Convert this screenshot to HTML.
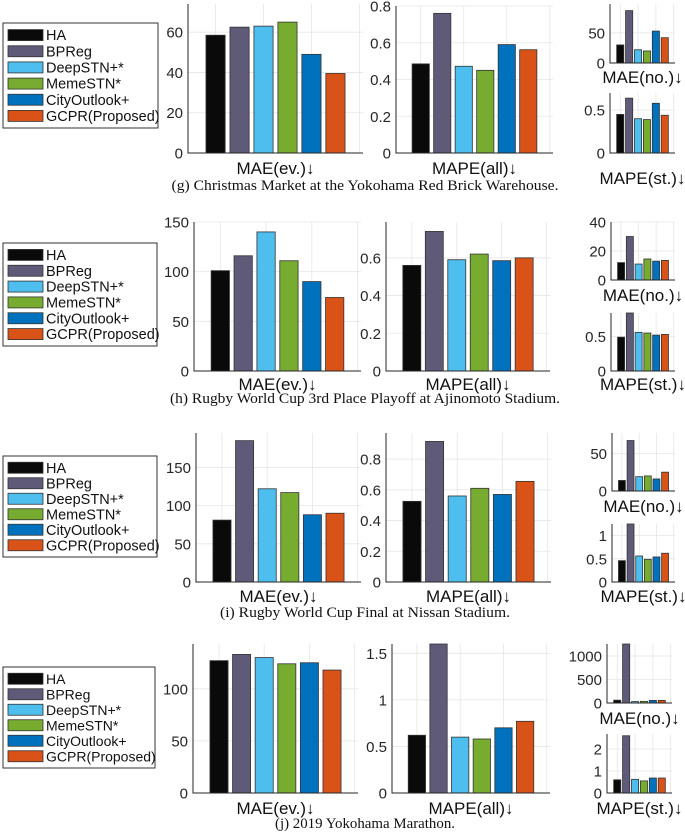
<!DOCTYPE html>
<html><head><meta charset="utf-8"><style>
html,body{margin:0;padding:0;background:#fff;}
svg{display:block;font-family:"Liberation Sans",Arial,sans-serif;}
</style></head>
<body>
<svg id="fig" width="685" height="834" viewBox="0 0 685 834" xmlns="http://www.w3.org/2000/svg"></svg>
<script>
const methods = ["HA","BPReg","DeepSTN+*","MemeSTN*","CityOutlook+","GCPR(Proposed)"];
const colors = ["#0a0a0a","#5e5a78","#4dbeee","#77ac30","#0072bd","#d95319"];

const gMaeEv = [58.5,62.5,63,65,49,39.5];
const gMapeAll = [0.485,0.76,0.472,0.45,0.59,0.562];
const gMaeNo = [30,87,22,20,53,42];
const gMapeSt = [0.45,0.64,0.40,0.39,0.58,0.44];

const hMaeEv = [101,116,140,111,90,74];
const hMapeAll = [0.56,0.74,0.59,0.62,0.585,0.60];
const hMaeNo = [12,30,11,14.5,13,13.5];
const hMapeSt = [0.49,0.84,0.56,0.55,0.52,0.53];

const iMaeEv = [81,185,122,117,88,90];
const iMapeAll = [0.525,0.915,0.56,0.61,0.57,0.655];
const iMaeNo = [14,67,19,20,16,25];
const iMapeSt = [0.46,1.25,0.56,0.49,0.54,0.62];

const jMaeEv = [127,133,130,124,125,118];
const jMapeAll = [0.62,1.7,0.60,0.58,0.70,0.77];
const jMaeNo = [60,1300,30,35,55,55];
const jMapeSt = [0.6,2.6,0.62,0.55,0.68,0.68];

const ticksMae150 = [0,50,100,150];
const ticksG1 = [0,20,40,60];
const ticksMape8 = [0,0.2,0.4,0.6,0.8];
const ticksMape6 = [0,0.2,0.4,0.6];
const ticksJ2 = [0,0.5,1,1.5];
const ticksG3 = [0,50];
const ticksH3 = [0,20,40];
const ticksSt05 = [0,0.5];
const ticksI4 = [0,0.5,1];
const ticksJ3 = [0,500,1000];
const ticksJ4 = [0,1,2];
const ticksH1 = [0,50,100,150];

const NS = "http://www.w3.org/2000/svg";
const svg = document.getElementById("fig");
function el(tag, attrs, parent){
  const e = document.createElementNS(NS, tag);
  for (const k in attrs) e.setAttribute(k, attrs[k]);
  (parent||svg).appendChild(e);
  return e;
}

function chart(name, x0, x1, top, zero, ymax, ticks, values, label, labelY){
  const g = el("g", {});
  
  
  const band = (x1 - x0) / 7.3;
  const xs = v => x0 + band * (0.15 + v);
  const ys = v => zero - (Math.min(v, ymax) / ymax) * (zero - top);
  [1,3,5,7].forEach(k => {
    const l = el("line", {x1:xs(k), x2:xs(k), y1:top, y2:zero, stroke:"#e6e6e6", "stroke-width":0.8}, g);
    
    
  });
  ticks.forEach(t => {
    const y = ys(t);
    if (t !== 0) {
      const l = el("line", {x1:x0, x2:x1, y1:y, y2:y, stroke:"#e6e6e6", "stroke-width":0.8}, g);
      
      
    }
    const tx = el("text", {x:x0-5, y:y+5.5, "text-anchor":"end", "font-size":15, fill:"#262626"}, g);
    tx.textContent = String(t);
    
    
  });
  values.forEach((v, i) => {
    const cx = xs(i + 1), w = band * 0.8;
    const r = el("rect", {x:cx - w/2, y:ys(v), width:w, height:zero - ys(v), fill:colors[i], stroke:"#333", "stroke-width":0.8}, g);
    
    
  });
  const ax = el("path", {d:`M${x0},${top} L${x0},${zero} L${x1},${zero}`, fill:"none", stroke:"#262626", "stroke-width":1}, g);
  
  
  const lb = el("text", {x:(x0+x1)/2, y:labelY+6, "text-anchor":"middle", "font-size":17, fill:"#111"}, g);
  lb.textContent = label;
  
  
}

function legend(x0, y0, x1, y1, fs){
  const g = el("g", {});
  
  
  const b = el("rect", {x:x0, y:y0, width:x1-x0, height:y1-y0, fill:"#fff", stroke:"#333", "stroke-width":1}, g);
  
  
  const step = (y1 - y0 - 8) / 6;
  methods.forEach((m, i) => {
    const cy = y0 + 4 + step * (i + 0.5);
    const sw = el("rect", {x:x0+5, y:cy-5.5, width:35, height:11, fill:colors[i], stroke:"#333", "stroke-width":0.8}, g);
    
    
    const t = el("text", {x:x0+43, y:cy+5, "font-size":fs, fill:"#111"}, g);
    t.textContent = m;
    
    
  });
}

function caption(text, y, w){
  const t = el("text", {x:365, y:y+5, "text-anchor":"middle", "font-size":14.5, "font-family":"Liberation Serif, serif", fill:"#111", textLength:w, lengthAdjust:"spacingAndGlyphs"});
  t.textContent = text;
  
  
}

// Panel g
legend(3, 23, 158, 128, 14.5);
chart("chart-g-mae-ev", 188, 363, 4, 153, 74, ticksG1, gMaeEv, "MAE(ev.)↓", 168);
chart("chart-g-mape-all", 396, 553, 6, 153, 0.8, ticksMape8, gMapeAll, "MAPE(all)↓", 168);
chart("chart-g-mae-no", 610, 675, 4, 63, 98, ticksG3, gMaeNo, "MAE(no.)↓", 77);
chart("chart-g-mape-st", 610, 675, 93, 153, 0.70, ticksSt05, gMapeSt, "MAPE(st.)↓", 178);
caption("(g) Christmas Market at the Yokohama Red Brick Warehouse.", 185, 387);

// Panel h
legend(3, 243, 157, 346, 14.5);
chart("chart-h-mae-ev", 194, 361, 222, 371, 150, ticksH1, hMaeEv, "MAE(ev.)↓", 384);
chart("chart-h-mape-all", 386, 550, 222, 371, 0.79, ticksMape6, hMapeAll, "MAPE(all)↓", 384);
chart("chart-h-mae-no", 611, 675, 222, 280, 40, ticksH3, hMaeNo, "MAE(no.)↓", 295);
chart("chart-h-mape-st", 611, 675, 313, 371, 0.84, ticksSt05, hMapeSt, "MAPE(st.)↓", 384);
caption("(h) Rugby World Cup 3rd Place Playoff at Ajinomoto Stadium.", 398, 390);

// Panel i
legend(3, 456, 157, 557, 14.5);
chart("chart-i-mae-ev", 196, 361, 433, 582, 195, ticksMae150, iMaeEv, "MAE(ev.)↓", 596);
chart("chart-i-mape-all", 386, 551, 433, 582, 0.97, ticksMape8, iMapeAll, "MAPE(all)↓", 596);
chart("chart-i-mae-no", 612, 675, 433, 491, 77, ticksG3, iMaeNo, "MAE(no.)↓", 506);
chart("chart-i-mape-st", 612, 675, 524, 582, 1.25, ticksI4, iMapeSt, "MAPE(st.)↓", 596);
caption("(i) Rugby World Cup Final at Nissan Stadium.", 612, 290);

// Panel j
legend(3, 667, 155, 768, 14);
chart("chart-j-mae-ev", 193, 358, 644, 793, 143, [0,50,100], jMaeEv, "MAE(ev.)↓", 808);
chart("chart-j-mape-all", 392, 550, 644, 793, 1.6, ticksJ2, jMapeAll, "MAPE(all)↓", 808);
chart("chart-j-mae-no", 607, 672, 644, 703, 1255, ticksJ3, jMaeNo, "MAE(no.)↓", 718);
chart("chart-j-mape-st", 607, 672, 734, 793, 2.68, ticksJ4, jMapeSt, "MAPE(st.)↓", 808);
caption("(j) 2019 Yokohama Marathon.", 823, 180);
</script>
</body></html>
